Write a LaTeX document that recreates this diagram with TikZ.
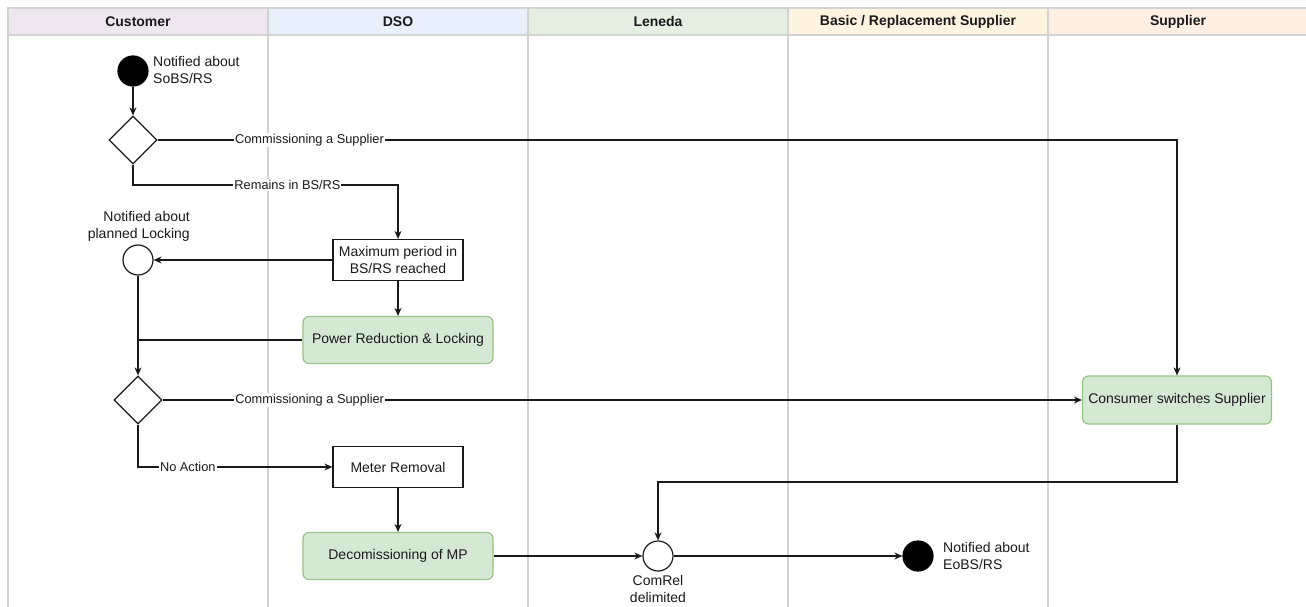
\documentclass[tikz,border=0pt]{standalone}
\usepackage{fontspec}
\setmainfont{Liberation Sans}
\usetikzlibrary{arrows.meta,shapes.geometric,calc}

\definecolor{custfill}{HTML}{EEE7EF}
\definecolor{dsofill}{HTML}{E8F0FB}
\definecolor{lenfill}{HTML}{E5F0E3}
\definecolor{basicfill}{HTML}{FFF4DF}
\definecolor{suppfill}{HTML}{FFEEE2}
\definecolor{laneline}{HTML}{D3D3D3}
\definecolor{greenfill}{HTML}{D5E8D4}
\definecolor{greenline}{HTML}{97C287}
\definecolor{ink}{HTML}{1A1A1A}

\tikzset{
  lanehead/.style={draw=laneline, line width=1.2pt, minimum width=260pt, minimum height=27pt,
    inner sep=0pt, font=\fontsize{14}{17}\selectfont\bfseries, text=ink},
  lanesep/.style={draw=laneline, line width=1.2pt},
  flow/.style={draw=ink, line width=1.3pt},
  arr/.style={flow, -{Stealth[length=8pt,width=7pt,inset=2.5pt]}},
  task/.style={draw=ink, line width=1.2pt, minimum width=130pt, minimum height=41pt,
    inner sep=2pt, align=center, font=\fontsize{14}{17}\selectfont, text=ink},
  greentask/.style={draw=greenline, fill=greenfill, line width=1.2pt, rounded corners=6pt,
    minimum width=190pt, minimum height=47pt, inner sep=2pt, align=center,
    font=\fontsize{14}{17}\selectfont, text=ink},
  gate/.style={diamond, draw=ink, fill=white, line width=1.2pt, minimum width=48pt,
    minimum height=48pt, inner sep=0pt},
  evt/.style={circle, draw=ink, fill=white, line width=1.2pt, minimum size=30pt, inner sep=0pt},
  evtend/.style={evt, fill=black, draw=black},
  note/.style={font=\fontsize{14}{17}\selectfont, text=ink, inner sep=0pt},
  lbl/.style={fill=white, inner sep=1pt, font=\fontsize{12.8}{15}\selectfont, text=ink},
}

\begin{document}
\begin{tikzpicture}[x=1pt, y=-1pt]
\useasboundingbox (0,0) rectangle (1306,607);
\fill[white] (0,0) rectangle (1306,607);

% swimlane bodies
\foreach \lx in {8,268,528,788,1048}
  \draw[lanesep] (\lx,35) -- (\lx,607);

% swimlane headers
\node[lanehead, fill=custfill]  (hcust)  at (138,21.5)  {Customer};
\node[lanehead, fill=dsofill]   (hdso)   at (398,21.5)  {DSO};
\node[lanehead, fill=lenfill]   (hlen)   at (658,21.5)  {Leneda};
\node[lanehead, fill=basicfill] (hbasic) at (918,21.5)  {Basic / Replacement Supplier};
\node[lanehead, fill=suppfill]  (hsupp)  at (1178,21.5) {Supplier};

% nodes
\node[evtend] (start) at (133,71) {};
\node[note, align=left, anchor=west] (startlbl) at (153,70) {Notified about\\SoBS/RS};
\node[gate] (d1) at (133,140) {};

\node[task] (max) at (398,260) {Maximum period in\\BS/RS reached};
\node[evt] (c2) at (138,260) {};
\node[note, align=right, anchor=east] (c2lbl) at (190,226) {Notified about\\planned Locking};
\node[greentask] (power) at (398,340) {Power Reduction \& Locking};

\node[gate] (d2) at (138,400) {};
\node[greentask, minimum width=189pt, minimum height=48pt] (cons) at (1177,400) {Consumer switches Supplier};

\node[task] (meter) at (398,467) {Meter Removal};
\node[greentask] (decom) at (398,556) {Decomissioning of MP};

\node[evt] (comrel) at (658,556) {};
\node[note, align=center, anchor=north] (comrellbl) at (658,575) {ComRel\\delimited};
\node[evtend] (end) at (918,556) {};
\node[note, align=left, anchor=west] (endlbl) at (943,556) {Notified about\\EoBS/RS};

\coordinate (bendR) at (398,185);
\coordinate (bendC) at (1177,482);

% connectors
\draw[arr] (start) -- (d1);
\draw[arr] (d1.east) -| node[lbl, pos=0.0745] {Commissioning a Supplier} (cons.north);
\draw[arr] (d1.south) -- (d1.south |- bendR) -- node[lbl, pos=0.583] {Remains in BS/RS} (bendR) -- (max.north);
\draw[arr] (max.west) -- (c2.east);
\draw[arr] (max.south) -- (power.north);
\draw[arr] (c2.south) -- (d2.north);
\draw[flow] (power.west) -- (power.west -| c2);
\draw[arr] (d2.east) -- node[lbl, pos=0.16] {Commissioning a Supplier} (cons.west);
\draw[arr] (d2.south) |- node[lbl, pos=0.628] {No Action} (meter.west);
\draw[arr] (meter.south) -- (decom.north);
\draw[arr] (decom.east) -- (comrel.west);
\draw[arr] (cons.south) -- (bendC) -| (comrel.north);
\draw[arr] (comrel.east) -- (end.west);
\end{tikzpicture}
\end{document}
